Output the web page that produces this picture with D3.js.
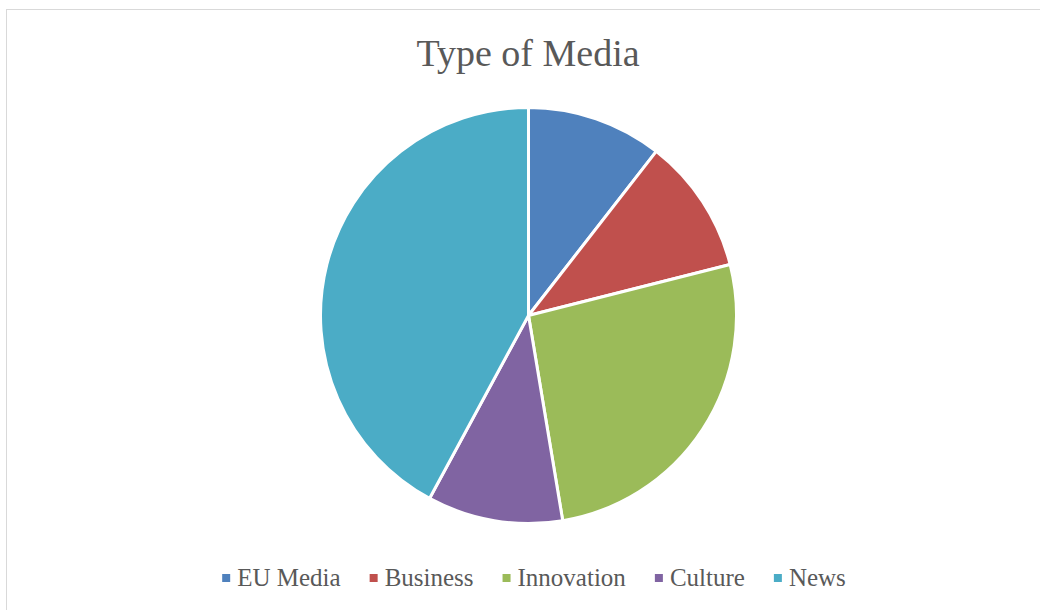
<!DOCTYPE html>
<html>
<head>
<meta charset="utf-8">
<script src="https://cdn.jsdelivr.net/npm/d3@7"></script>
<style>
  html, body { margin: 0; padding: 0; background: #ffffff; }
  svg { display: block; }
  text { font-family: "Liberation Serif", "DejaVu Serif", serif; fill: #595959; }
</style>
</head>
<body>
<svg id="chart" width="1040" height="610"></svg>
<script>
// Media types and their counts
const categories = ["EU Media", "Business", "Innovation", "Culture", "News"];
const values = [4, 4, 10, 4, 16];
const colors = ["#4F81BD", "#C0504D", "#9BBB59", "#8064A2", "#4BACC6"];
const title = "Type of Media";

const svg = d3.select("#chart");
const W = 1040, H = 610;

// chart frame (runs off the right and bottom edges)
svg.append("rect")
  .attr("x", 6.5).attr("y", 9.5)
  .attr("width", W + 10).attr("height", H + 10)
  .attr("fill", "#ffffff")
  .attr("stroke", "#d9d9d9")
  .attr("stroke-width", 1);

// title
svg.append("text")
  .attr("x", 528).attr("y", 66)
  .attr("text-anchor", "middle")
  .style("font-size", "38px")
  .text(title);

// pie
const cx = 528.5, cy = 315.5, r = 208;
const data = categories.map((c, i) => ({ name: c, value: values[i], color: colors[i] }));
const pie = d3.pie().sort(null).value(d => d.value);
const arc = d3.arc().innerRadius(0).outerRadius(r);

svg.append("g")
  .attr("transform", `translate(${cx},${cy})`)
  .selectAll("path")
  .data(pie(data))
  .join("path")
  .attr("d", arc)
  .attr("fill", d => d.data.color)
  .attr("stroke", "#ffffff")
  .attr("stroke-width", 3)
  .attr("stroke-linejoin", "round");

// legend, laid out from measured label widths and centred
const legend = svg.append("g");
const items = legend.selectAll("g").data(data).join("g");
items.append("rect")
  .attr("width", 8).attr("height", 8)
  .attr("y", -12)
  .attr("fill", d => d.color);
items.append("text")
  .attr("x", 15)
  .attr("y", 0)
  .style("font-size", "25px")
  .text(d => d.name);

const gap = 29;
let xPos = 0;
items.each(function () {
  const g = d3.select(this);
  const w = 15 + g.select("text").node().getComputedTextLength();
  g.attr("transform", `translate(${xPos},0)`);
  xPos += w + gap;
});
const totalW = xPos - gap;
legend.attr("transform", `translate(${534 - totalW / 2},586)`);
</script>
</body>
</html>
